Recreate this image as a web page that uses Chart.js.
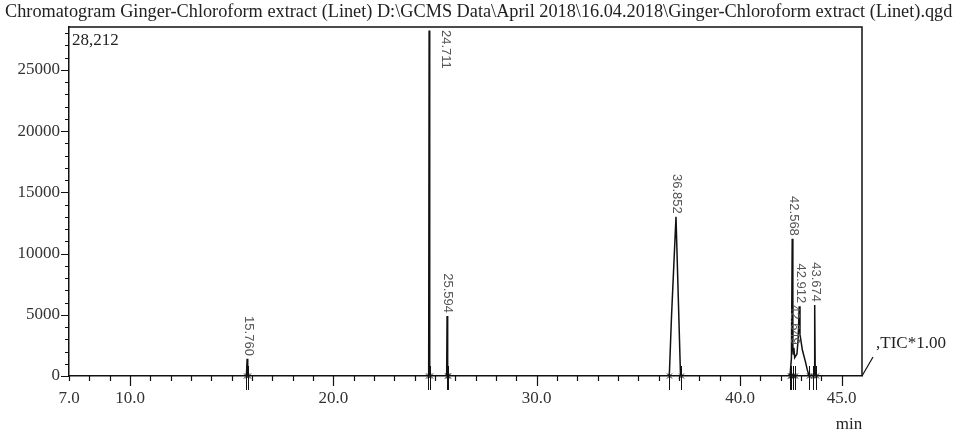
<!DOCTYPE html>
<html>
<head>
<meta charset="utf-8">
<script src="https://cdn.jsdelivr.net/npm/chart.js@4.4.1/dist/chart.umd.min.js"></script>
<style>
  html, body { margin: 0; padding: 0; background: #fff; }
  #wrap { width: 956px; height: 434px; }
</style>
</head>
<body>
<div id="wrap"><canvas id="tic" width="956" height="434"></canvas></div>
<script>
/* global Chart */

const titleText = 'Chromatogram Ginger-Chloroform extract (Linet) D:\\GCMS Data\\April 2018\\16.04.2018\\Ginger-Chloroform extract (Linet).qgd';
const maxLabel = '28,212';
const traceLabel = ',TIC*1.00';
const xUnit = 'min';

const xTicks = [7, 10, 20, 30, 40, 45];
const yTicks = [0, 5000, 10000, 15000, 20000, 25000];

// TIC trace: retention time (min) and intensity
const rtMin = [
  7.0, 15.70, 15.73, 15.76, 15.79, 15.82,
  24.67, 24.69, 24.711, 24.73, 24.75,
  25.56, 25.575, 25.594, 25.615, 25.63,
  36.50, 36.53, 36.63, 36.852, 37.07, 37.10,
  42.40, 42.47, 42.53, 42.568, 42.60, 42.62, 42.649, 42.69, 42.80, 42.86,
  42.912, 42.95, 43.07, 43.22, 43.31, 43.40,
  43.62, 43.645, 43.674, 43.70, 43.73, 46.0
];
const tic = [
  0, 0, 150, 1400, 150, 0,
  0, 400, 28212, 400, 0,
  0, 300, 4900, 300, 0,
  0, 300, 4800, 13000, 300, 0,
  0, 200, 1500, 11200, 2200, 1800, 2300, 1500, 1800, 3000,
  5700, 3400, 2100, 1150, 500, 0,
  0, 300, 5800, 300, 0, 0
];

// labelled peaks
const peakRt = [15.760, 24.711, 25.594, 36.852, 42.568, 42.649, 42.912, 43.674];
const peakTop = [1400, 28212, 4900, 13000, 11200, 2300, 5700, 5800];

// integration start/end marks under the baseline
const markRt = [15.72, 15.80, 24.68, 24.74, 25.57, 25.62, 36.52, 37.09,
  42.45, 42.52, 42.62, 42.70, 43.38, 43.61, 43.72];

const serif = '"Liberation Serif", "Times New Roman", serif';

const chromPlugin = {
  id: 'chrom',
  afterDraw(chart) {
    const { ctx, chartArea: a, scales: { x, y } } = chart;
    ctx.save();

    // title, fitted to the page width
    ctx.fillStyle = '#222';
    ctx.font = '16px ' + serif;
    const w = ctx.measureText(titleText).width;
    const size = 16 * 948 / w;
    ctx.font = size.toFixed(2) + 'px ' + serif;
    ctx.textBaseline = 'alphabetic';
    ctx.textAlign = 'left';
    ctx.fillText(titleText, 5, 17);

    // frame top / right
    ctx.strokeStyle = '#111';
    ctx.lineWidth = 1.5;
    ctx.beginPath();
    ctx.moveTo(a.left, a.top);
    ctx.lineTo(a.right, a.top);
    ctx.lineTo(a.right, a.bottom);
    ctx.stroke();

    // tick marks
    ctx.lineWidth = 1.2;
    ctx.beginPath();
    for (let t = 7; t <= 45; t++) {
      const px = Math.round(x.getPixelForValue(t)) + 0.5;
      const len = (t % 10 === 0 || t === 45) ? 10 : 5;
      ctx.moveTo(px, a.bottom);
      ctx.lineTo(px, a.bottom + len);
    }
    for (let v = 0; v <= 28000; v += 1000) {
      const py = Math.round(y.getPixelForValue(v)) + 0.5;
      const len = v % 5000 === 0 ? 8 : 4;
      ctx.moveTo(a.left, py);
      ctx.lineTo(a.left - len, py);
    }
    ctx.stroke();

    // peak marks
    ctx.lineWidth = 1;
    ctx.beginPath();
    markRt.forEach(rt => {
      const px = Math.round(x.getPixelForValue(rt)) + 0.5;
      ctx.moveTo(px, a.bottom - 10);
      ctx.lineTo(px, a.bottom + 14);
      ctx.moveTo(px - 2.5, a.bottom - 2.5);
      ctx.lineTo(px + 2.5, a.bottom + 2.5);
      ctx.moveTo(px + 2.5, a.bottom - 2.5);
      ctx.lineTo(px - 2.5, a.bottom + 2.5);
    });
    ctx.stroke();

    // peak labels, rotated
    ctx.fillStyle = '#555';
    ctx.font = '13px "Liberation Sans", Arial, sans-serif';
    ctx.textBaseline = 'middle';
    peakRt.forEach((rt, i) => {
      const px = x.getPixelForValue(rt);
      const py = y.getPixelForValue(peakTop[i]);
      ctx.save();
      if (py < a.top + 60) {
        ctx.translate(px + 16, a.top + 3);
        ctx.textAlign = 'left';
      } else {
        ctx.translate(px + 1, py - 3);
        ctx.textAlign = 'right';
      }
      ctx.rotate(Math.PI / 2);
      ctx.fillText(rt.toFixed(3), 0, 0);
      ctx.restore();
    });

    // max intensity, unit, trace name
    ctx.fillStyle = '#222';
    ctx.font = '17px ' + serif;
    ctx.textBaseline = 'alphabetic';
    ctx.textAlign = 'left';
    ctx.fillText(maxLabel, a.left + 3, a.top + 18);
    ctx.textAlign = 'center';
    ctx.fillText(xUnit, a.right - 13, 429);
    ctx.textAlign = 'left';
    ctx.fillText(traceLabel, a.right + 14, a.bottom - 28);

    ctx.strokeStyle = '#111';
    ctx.lineWidth = 1.2;
    ctx.beginPath();
    ctx.moveTo(a.right, a.bottom);
    ctx.lineTo(a.right + 11, a.bottom - 19);
    ctx.stroke();

    ctx.restore();
  }
};

new Chart(document.getElementById('tic').getContext('2d'), {
  type: 'line',
  data: {
    datasets: [{
      label: 'TIC',
      data: rtMin.map((t, i) => ({ x: t, y: tic[i] })),
      borderColor: '#111',
      borderWidth: 1.5,
      pointRadius: 0,
      tension: 0,
      fill: false
    }]
  },
  options: {
    responsive: false,
    animation: false,
    layout: { padding: { top: 27, right: 94, bottom: 0, left: 0 } },
    plugins: {
      legend: { display: false },
      tooltip: { enabled: false }
    },
    scales: {
      x: {
        type: 'linear',
        min: 7,
        max: 46,
        afterBuildTicks: s => { s.ticks = xTicks.map(v => ({ value: v })); },
        afterFit: s => { s.height = 58; },
        ticks: {
          padding: 12,
          maxRotation: 0,
          color: '#333',
          font: { family: serif, size: 17 },
          callback: v => Number(v).toFixed(1)
        },
        grid: { drawOnChartArea: false, drawTicks: false },
        border: { display: true, color: '#111', width: 1.5 }
      },
      y: {
        min: 0,
        max: 28500,
        afterBuildTicks: s => { s.ticks = yTicks.map(v => ({ value: v })); },
        afterFit: s => { s.width = 69; },
        ticks: {
          padding: 9,
          color: '#333',
          font: { family: serif, size: 17 },
          callback: v => String(v)
        },
        grid: { drawOnChartArea: false, drawTicks: false },
        border: { display: true, color: '#111', width: 1.5 }
      }
    }
  },
  plugins: [chromPlugin]
});
</script>
</body>
</html>
